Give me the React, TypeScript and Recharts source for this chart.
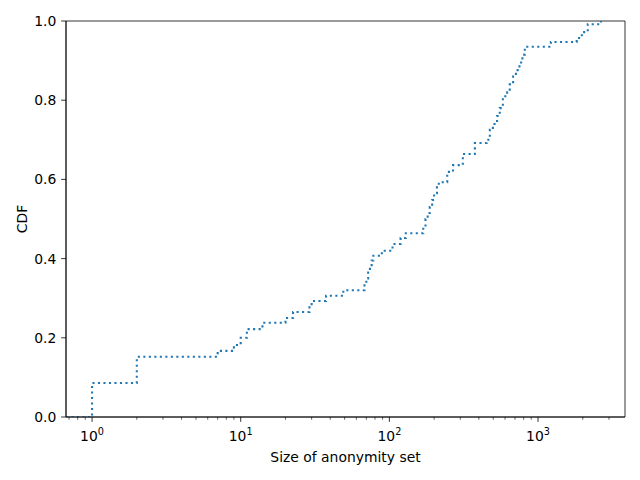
import React from 'react';
import { LineChart, Line, XAxis, YAxis, ReferenceArea, Label } from 'recharts';

const sizes = [0.668, 1, 2, 7, 9, 10, 11, 14, 20, 22.5, 29, 30, 37.5, 49, 68, 70, 72, 74, 76, 78, 89, 105, 119, 129, 169, 175, 181, 187, 194, 200, 209, 215, 245, 268, 312, 376, 451, 474, 497, 530, 553, 580, 620, 645, 680, 710, 750, 785, 815, 1220, 1820, 1970, 2160, 2650];
const cdfValues = [0, 0.086, 0.152, 0.167, 0.182, 0.2, 0.222, 0.238, 0.25, 0.265, 0.28, 0.293, 0.306, 0.32, 0.335, 0.35, 0.365, 0.38, 0.395, 0.407, 0.42, 0.437, 0.452, 0.464, 0.48, 0.5, 0.515, 0.53, 0.548, 0.565, 0.586, 0.593, 0.619, 0.636, 0.664, 0.692, 0.70, 0.725, 0.74, 0.76, 0.78, 0.81, 0.82, 0.84, 0.86, 0.876, 0.895, 0.915, 0.935, 0.947, 0.957, 0.972, 0.992, 1.0];

const xDomain = [0.668, 3846];
const xMajorTicks = [1, 10, 100, 1000];
const xMinorTicks = [0.7, 0.8, 0.9, 2, 3, 4, 5, 6, 7, 8, 9, 20, 30, 40, 50, 60, 70, 80, 90, 200, 300, 400, 500, 600, 700, 800, 900, 2000, 3000];
const yTicks = [0, 0.2, 0.4, 0.6, 0.8, 1.0];

const data = sizes.map((s, i) => ({ size: s, cdf: cdfValues[i] }));
const allXTicks = [...xMinorTicks, ...xMajorTicks].sort((a, b) => a - b);

const FONT = 'DejaVu Sans, sans-serif';
const FS = 13.9;

const XTick = (props: any) => {
  const { x, y, payload } = props;
  const v = payload.value;
  const exp = Math.round(Math.log10(v));
  const major = Math.abs(Math.log10(v) - exp) < 1e-9;
  if (!major) {
    return <line x1={x} x2={x} y1={y} y2={y + 2.78} stroke="#000" strokeWidth={0.6} />;
  }
  return (
    <g>
      <line x1={x} x2={x} y1={y} y2={y + 4.86} stroke="#000" strokeWidth={0.8} />
      <text x={x} y={y + 4.86 + 4.86 + 14} textAnchor="middle" fontFamily={FONT} fontSize={FS} fill="#000">
        10<tspan dy={-6} fontSize={9.7}>{exp}</tspan>
      </text>
    </g>
  );
};

const XLabelContent = () => (
  <text x={345.5} y={462} textAnchor="middle" fontFamily={FONT} fontSize={FS} fill="#000">
    Size of anonymity set
  </text>
);

const YLabelContent = () => (
  <text x={22} y={219} transform="rotate(-90, 22, 219)" textAnchor="middle" dominantBaseline="central" fontFamily={FONT} fontSize={FS} fill="#000">
    CDF
  </text>
);

export default function App() {
  return (
    <div style={{ position: 'absolute', left: 0, top: 0, width: 640, height: 480, background: '#fff' }}>
      <LineChart width={640} height={480} data={data} margin={{ top: 21, right: 15, left: 0, bottom: 0 }}>
        <XAxis
          dataKey="size"
          type="number"
          scale="log"
          domain={xDomain}
          allowDataOverflow
          ticks={allXTicks}
          interval={0}
          tick={<XTick />}
          tickLine={false}
          tickSize={0}
          tickMargin={0}
          axisLine={{ stroke: '#000', strokeWidth: 0.8 }}
          height={63}
        >
          <Label content={XLabelContent} />
        </XAxis>
        <YAxis
          type="number"
          domain={[0, 1]}
          allowDataOverflow
          ticks={yTicks}
          interval={0}
          tickFormatter={(v: number) => v.toFixed(1)}
          tick={{ fill: '#000', fontSize: FS, fontFamily: FONT }}
          tickLine={{ stroke: '#000', strokeWidth: 0.8 }}
          tickSize={4.86}
          tickMargin={4.86}
          axisLine={{ stroke: '#000', strokeWidth: 0.8 }}
          width={66}
        >
          <Label content={YLabelContent} />
        </YAxis>
        <ReferenceArea x1={xDomain[0]} x2={xDomain[1]} y1={0} y2={1} fill="none" stroke="#000" strokeWidth={0.8} fillOpacity={0} />
        <Line
          dataKey="cdf"
          type="stepAfter"
          stroke="#1f77b4"
          strokeWidth={2.08}
          strokeDasharray="2.1 3.4"
          dot={false}
          isAnimationActive={false}
        />
      </LineChart>
    </div>
  );
}
